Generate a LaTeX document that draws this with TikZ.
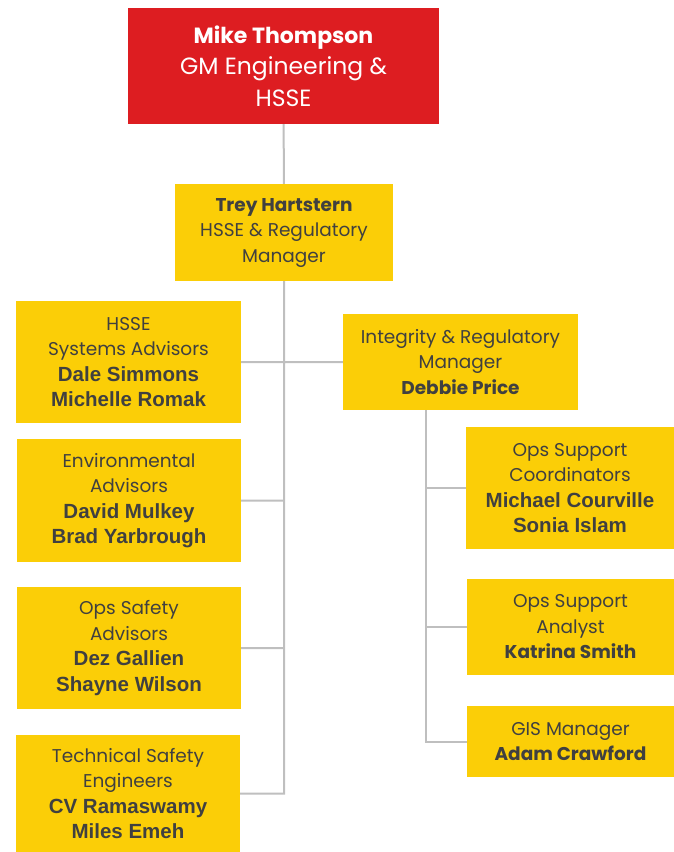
\documentclass[tikz,border=0pt]{standalone}
\usepackage{fontspec}
\setmainfont{Poppins}
\newfontfamily\arial{Liberation Sans}
\usepackage{xcolor}

\definecolor{shellred}{HTML}{DD1D21}
\definecolor{shellyellow}{HTML}{FBCE07}
\definecolor{txtgrey}{HTML}{404040}
\definecolor{linegrey}{HTML}{BFBFBF}

\newcommand{\nm}[1]{{\arial\bfseries\fontsize{20.5}{25.5}\selectfont #1}}

\begin{document}
\begin{tikzpicture}[x=1pt, y=1pt,
        box/.style={fill=shellyellow, text=txtgrey, align=center, inner sep=0pt,
            font=\fontsize{18.5}{25.5}\selectfont},
        link/.style={draw=linegrey, line width=2pt}]
        \useasboundingbox (0,0) rectangle (674,-852);

        % top of the tree
        \node[box, fill=shellred, text=white, minimum width=311pt, minimum height=116pt,
            font=\fontsize{23.5}{31.5}\selectfont] (mike) at (283.5,-66) {{\fontsize{22}{31.5}\selectfont\textbf{Mike Thompson}}\\GM Engineering \&\\HSSE};
        \node[box, minimum width=218pt, minimum height=97pt] (trey) at (284,-232.5) {\textbf{Trey Hartstern}\\HSSE \& Regulatory\\Manager};

        % left column
        \node[box, minimum width=225pt, minimum height=122pt] (hsse) at (128.5,-362) {HSSE\\Systems Advisors\\\nm{Dale Simmons}\\\nm{Michelle Romak}};
        \node[box, minimum width=224pt, minimum height=123pt] (env) at (129,-500.5) {Environmental\\Advisors\\\nm{David Mulkey}\\\nm{Brad Yarbrough}};
        \node[box, minimum width=224pt, minimum height=122pt] (opssafety) at (129,-648) {Ops Safety\\Advisors\\\nm{Dez Gallien}\\\nm{Shayne Wilson}};
        \node[box, minimum width=224pt, minimum height=117pt] (techsafety) at (128,-793.5) {Technical Safety\\Engineers\\\nm{CV Ramaswamy}\\\nm{Miles Emeh}};

        % right column
        \node[box, minimum width=235pt, minimum height=96pt] (integrity) at (460.5,-362) {Integrity \& Regulatory\\Manager\\\textbf{Debbie Price}};
        \node[box, minimum width=208pt, minimum height=122pt] (opscoord) at (570,-488) {Ops Support\\Coordinators\\\nm{Michael Courville}\\\nm{Sonia Islam}};
        \node[box, minimum width=207pt, minimum height=96pt] (opsanalyst) at (570.5,-627) {Ops Support\\Analyst\\\textbf{Katrina Smith}};
        \node[box, minimum width=207pt, minimum height=71pt] (gis) at (570.5,-741.5) {GIS Manager\\\textbf{Adam Crawford}};

        \coordinate (isplit) at ([xshift=-34.5pt]integrity.south);

        \draw[link] (mike) -- (trey)
            (trey.south) |- (techsafety.east)
            (hsse.east) -- (integrity.west)
            (env.east) -- (env.east -| trey.south)
            (opssafety.east) -- (opssafety.east -| trey.south);
        \draw[link] (isplit) |- (gis.west)
            (opscoord.west) -- (opscoord.west -| isplit)
            (opsanalyst.west) -- (opsanalyst.west -| isplit);
    \end{tikzpicture}
\end{document}
